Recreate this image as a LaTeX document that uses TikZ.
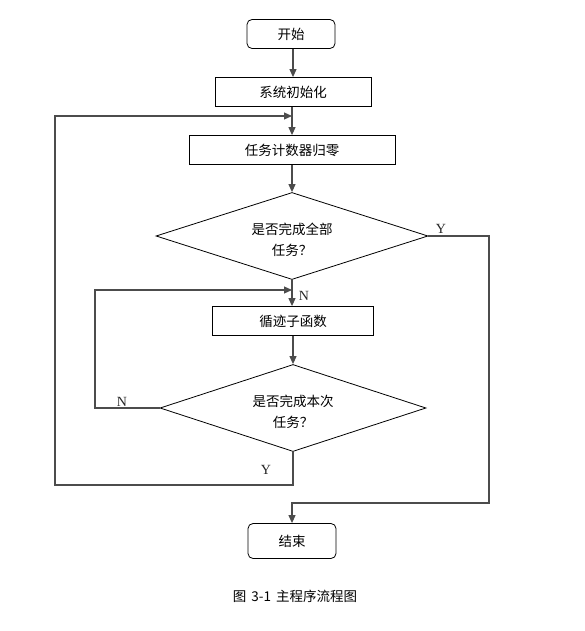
\documentclass[tikz,border=0pt]{standalone}
\usepackage{fontspec}
\setmainfont{Liberation Serif}
\newfontfamily\cjk{Noto Sans CJK SC}
\usetikzlibrary{shapes.geometric,arrows.meta}
\tikzset{
  box/.style={draw=black,line width=0.8pt,fill=white,inner sep=0pt,font=\cjk\fontsize{13.5}{16}\selectfont},
  term/.style={box,rounded corners=5pt,minimum width=88pt},
  proc/.style={box,minimum height=29pt},
  dec/.style={box,diamond,aspect=3.1},
  dectext/.style={align=center,inner sep=0pt,font=\cjk\fontsize{13.5}{21}\selectfont},
  conn/.style={draw=black!70,line width=1.1pt},
  arr/.style={conn,-{Triangle[length=8pt,width=7pt]}},
  lab/.style={font=\fontsize{14}{16}\selectfont,text=black!85,inner sep=0pt}
}
\begin{document}
\begin{tikzpicture}[x=1pt,y=-1pt]
\useasboundingbox (0,0) rectangle (585,631);
\node[term,minimum height=29pt] (start) at (291,34) {开始};
\node[proc,minimum width=156pt] (init) at (293,92) {系统初始化};
\node[proc,minimum width=206pt] (reset) at (292,150) {任务计数器归零};
\node[dec,minimum width=272pt,minimum height=87pt] (d1) at (292,236) {};
\node[dectext] (d1t) at (292,240) {是否完成全部\\任务？};
\node[proc,minimum width=161pt] (sub) at (293,321) {循迹子函数};
\node[dec,minimum width=266pt,minimum height=87pt] (d2) at (293,408) {};
\node[dectext] (d2t) at (293,412) {是否完成本次\\任务？};
\node[term,minimum height=35pt] (end) at (292,541) {结束};
\node[font=\cjk\fontsize{13.5}{16}\selectfont,inner sep=0pt] (cap) at (295,596) {图\hspace{5pt}3-1\hspace{5pt}主程序流程图};

\coordinate (j1) at (292,116);
\coordinate (j2) at (292,290);
\coordinate (c1) at (489,236);
\coordinate (c2) at (489,503);
\coordinate (c3) at (292,503);
\coordinate (c4) at (293,485);
\coordinate (c5) at (55,485);
\coordinate (c6) at (55,116);
\coordinate (c7) at (95,408);
\coordinate (c8) at (95,290);

\draw[arr] (start.south -| init.north) -- (init.north);
\draw[arr] (init.south -| reset.north) -- (reset.north);
\draw[arr] (reset.south) -- (d1.north);
\draw[arr] (d1.south) -- (sub.north -| d1.south);
\draw[arr] (sub.south) -- (d2.north);
\draw[arr] (d1.east) -- (c1) -- (c2) -- (c3) -- (end.north);
\draw[arr] (d2.south) -- (c4) -- (c5) -- (c6) -- (j1);
\draw[arr] (d2.west) -- (c7) -- (c8) -- (j2);

\node[lab] (y1) at (441,229) {Y};
\node[lab] (n1) at (304,296) {N};
\node[lab] (n2) at (122,402) {N};
\node[lab] (y2) at (266,470) {Y};
\end{tikzpicture}
\end{document}
